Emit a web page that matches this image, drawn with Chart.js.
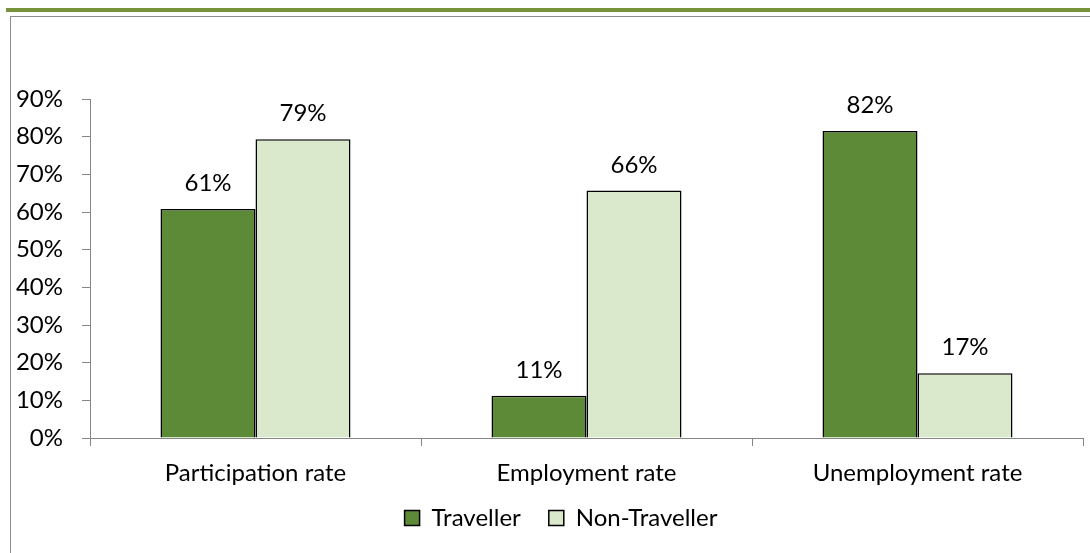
<!DOCTYPE html>
<html>
<head>
<meta charset="utf-8">
<script src="https://cdn.jsdelivr.net/npm/chart.js@4.4.1/dist/chart.umd.min.js"></script>
<style>
  html, body { margin: 0; padding: 0; background: #fff; }
  #wrap { position: relative; width: 1090px; height: 553px; overflow: hidden; }
  #topline { position: absolute; left: 6px; top: 8px; width: 1084px; height: 4px; background: #77933C; }
  #frame { position: absolute; left: 10px; top: 16px; width: 1200px; height: 700px; border: 1px solid #8c8c8c; }
  #c { position: absolute; left: 0; top: 0; }
</style>
</head>
<body>
<div id="wrap">
  <div id="topline"></div>
  <div id="frame"></div>
  <canvas id="c" width="1090" height="553"></canvas>
</div>
<script>
const categories = ["Participation rate", "Employment rate", "Unemployment rate"];
const seriesNames = ["Traveller", "Non-Traveller"];
const traveller = [60.8, 11.2, 81.5];
const nonTraveller = [79.3, 65.7, 17.2];
const yTicks = [0, 10, 20, 30, 40, 50, 60, 70, 80, 90];

const FONT = "Lato, 'Open Sans', sans-serif";
const FSIZE = 24;
const AX = '#868686';

const dataLabels = {
  id: 'dataLabels',
  afterDatasetsDraw(chart) {
    const ctx = chart.ctx;
    ctx.save();
    ctx.font = FSIZE + 'px ' + FONT;
    ctx.fillStyle = '#000';
    ctx.textAlign = 'center';
    ctx.textBaseline = 'alphabetic';
    chart.data.datasets.forEach((ds, i) => {
      chart.getDatasetMeta(i).data.forEach((bar, j) => {
        ctx.fillText(Math.round(ds.data[j]) + '%', bar.x, bar.y - 18);
      });
    });
    ctx.restore();
  }
};

const legendPlace = {
  id: 'legendPlace',
  afterLayout(chart) {
    const lg = chart.legend;
    if (!lg) return;
    lg.left = 39;
    lg.top -= 13;
    lg.bottom -= 13;
  }
};

new Chart(document.getElementById('c'), {
  type: 'bar',
  data: {
    labels: categories,
    datasets: [
      { label: seriesNames[0], data: traveller, backgroundColor: '#5D8A37', borderColor: '#000', borderWidth: 1.5 },
      { label: seriesNames[1], data: nonTraveller, backgroundColor: '#DAE9CC', borderColor: '#000', borderWidth: 1.5 }
    ]
  },
  options: {
    responsive: false,
    animation: false,
    devicePixelRatio: 1,
    layout: { padding: { left: 0, right: 7, top: 99, bottom: 0 } },
    datasets: { bar: { categoryPercentage: 0.574, barPercentage: 1.0 } },
    plugins: {
      legend: {
        position: 'bottom',
        labels: {
          font: { family: FONT, size: FSIZE },
          color: '#000',
          boxWidth: 15,
          boxHeight: 15,
          padding: 28
        }
      },
      tooltip: { enabled: false }
    },
    scales: {
      y: {
        min: 0, max: 90,
        afterFit(s) { s.width = 90; },
        afterBuildTicks(s) { s.ticks = yTicks.map(v => ({ value: v })); },
        ticks: {
          font: { family: FONT, size: FSIZE },
          color: '#000',
          padding: 19,
          callback: v => v + '%'
        },
        grid: { drawOnChartArea: false, drawTicks: true, tickLength: 8, color: AX, lineWidth: 1 },
        border: { display: true, color: AX, width: 1 }
      },
      x: {
        afterFit(s) { s.height = 53; },
        ticks: {
          font: { family: FONT, size: FSIZE },
          color: '#000',
          padding: 13
        },
        grid: { drawOnChartArea: false, drawTicks: true, tickLength: 8, color: AX, lineWidth: 1, offset: true },
        border: { display: true, color: AX, width: 1 }
      }
    }
  },
  plugins: [dataLabels, legendPlace]
});
</script>
</body>
</html>
